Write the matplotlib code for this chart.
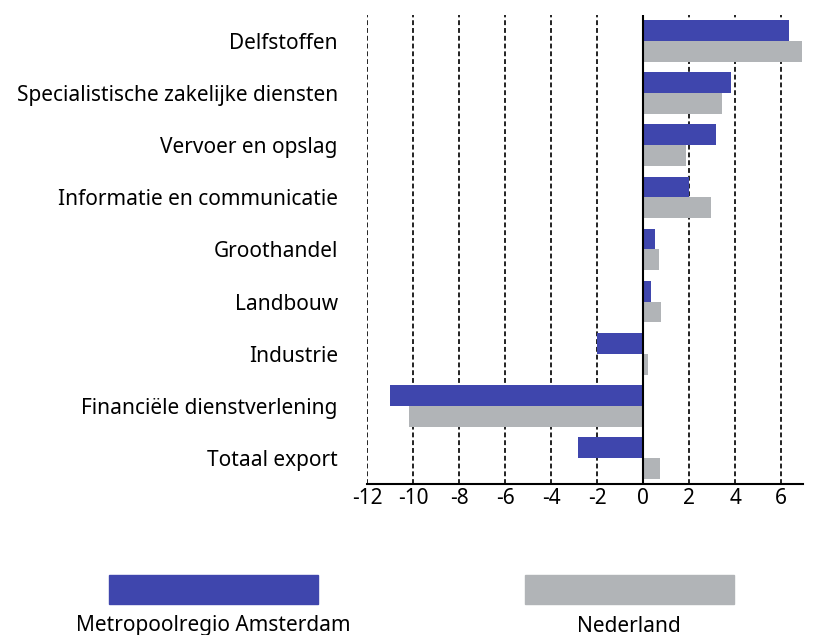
import matplotlib.pyplot as plt
import numpy as np
from matplotlib.patches import Rectangle

plt.rcParams['font.family'] = ['Noto Sans', 'DejaVu Sans']

categories = ['Delfstoffen', 'Specialistische zakelijke diensten', 'Vervoer en opslag',
              'Informatie en communicatie', 'Groothandel', 'Landbouw', 'Industrie',
              'Financiële dienstverlening', 'Totaal export']
mra = [6.35, 3.8, 3.15, 2.0, 0.52, 0.35, -2.0, -11.0, -2.83]
nl = [6.9, 3.45, 1.87, 2.95, 0.7, 0.78, 0.2, -10.17, 0.74]
xticks = [-12, -10, -8, -6, -4, -2, 0, 2, 4, 6]

blue = '#3F46AD'
grey = '#B1B4B7'

fig = plt.figure(figsize=(8.14, 6.35), dpi=100)
ax = fig.add_axes([0.4509, 0.2378, 0.5356, 0.7386])

y = np.arange(len(categories))
h = 0.4
ax.barh(y - h / 2, mra, height=h, color=blue, zorder=3)
ax.barh(y + h / 2, nl, height=h, color=grey, zorder=3)

ax.set_ylim(len(categories) - 0.5, -0.5)
ax.set_xlim(-12, 6.95)

# dashed gridlines, solid zero line
for t in xticks:
    if t == 0:
        ax.axvline(0, color='black', lw=1.5, zorder=4)
    else:
        ax.axvline(t, color='#222222', lw=1.4, ls=(0, (2.5, 1.5)), zorder=1)

ax.set_xticks(xticks)
ax.set_xticklabels([str(t) for t in xticks], fontsize=15)
ax.set_yticks(y)
ax.set_yticklabels(categories, fontsize=15)
ax.tick_params(axis='y', length=0, pad=21)
ax.tick_params(axis='x', length=0, pad=3)

for s in ['top', 'right', 'left']:
    ax.spines[s].set_visible(False)
ax.spines['bottom'].set_linewidth(1.5)

# legend below the chart
fig.patches.append(Rectangle((109 / 814, 1 - 604 / 635), 209 / 814, 29 / 635,
                             transform=fig.transFigure, color=blue))
fig.patches.append(Rectangle((525 / 814, 1 - 604 / 635), 209 / 814, 29 / 635,
                             transform=fig.transFigure, color=grey))
fig.text(213 / 814, 1 - 626 / 635, 'Metropoolregio Amsterdam', ha='center', va='center', fontsize=15)
fig.text(629 / 814, 1 - 626 / 635, 'Nederland', ha='center', va='center', fontsize=15)

fig.savefig('out.png', dpi=100)
